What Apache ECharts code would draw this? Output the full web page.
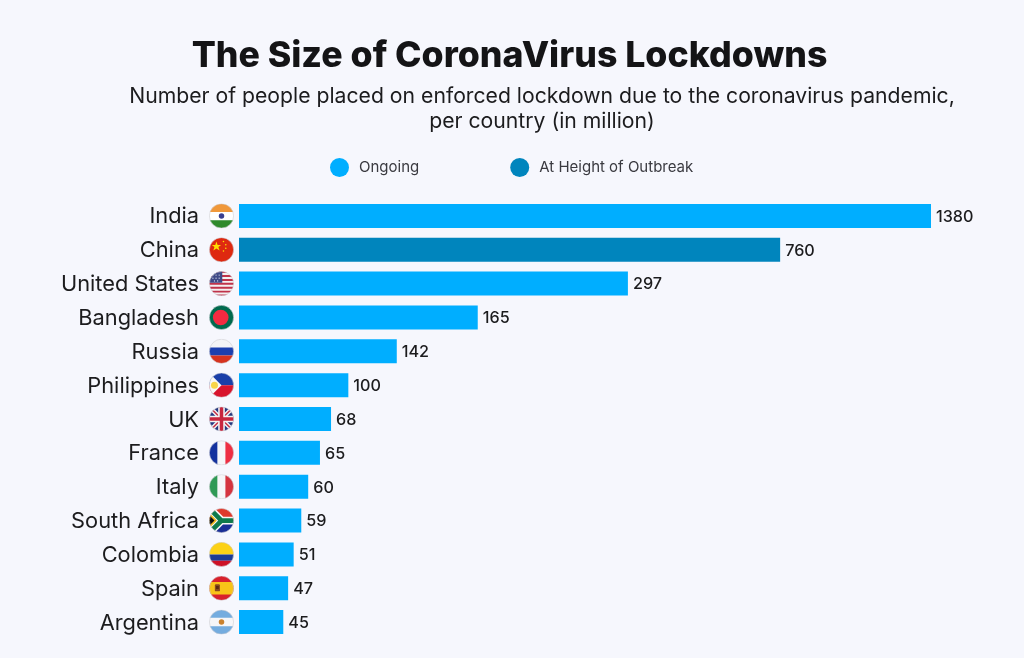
<!DOCTYPE html>
<html>
<head>
<meta charset="utf-8">
<title>The Size of CoronaVirus Lockdowns</title>
<script src="https://cdn.jsdelivr.net/npm/echarts@6/dist/echarts.min.js"></script>
<style>
html,body{margin:0;padding:0;background:#f6f7fd}
#main{width:1024px;height:658px}
</style>
</head>
<body>
<div id="main"></div>
<script>
var countries = ['India','China','United States','Bangladesh','Russia','Philippines','UK','France','Italy','South Africa','Colombia','Spain','Argentina'];
// numbers printed next to the bars
var printedValues = [1380,760,297,165,142,100,68,65,60,59,51,47,45];
// the original bars are not proportional to the printed numbers,
// so this is the bar length, as % of the longest bar
var barShare = [100,78.2,56.2,34.5,22.8,15.8,13.3,11.7,10,9,7.9,7.1,6.4];
var barStatus = ['Ongoing','At Height of Outbreak','Ongoing','Ongoing','Ongoing','Ongoing','Ongoing','Ongoing','Ongoing','Ongoing','Ongoing','Ongoing','Ongoing'];

var font = 'Inter';
var ink = '#1c1c1e';

var flagArt = {
  'India': '<rect width="64" height="22" fill="#f0983a"/><rect y="22" width="64" height="21" fill="#fff"/><rect y="43" width="64" height="21" fill="#2f8a2c"/><circle cx="32" cy="32" r="7" fill="#3a3f8f"/>',
  'China': '<rect width="64" height="64" fill="#de2910"/><polygon points="19,11 22,20 31,20 24,25 27,34 19,29 11,34 14,25 7,20 16,20" fill="#ffde00"/><circle cx="37" cy="11" r="2" fill="#ffde00"/><circle cx="43" cy="19" r="2" fill="#ffde00"/><circle cx="43" cy="28" r="2" fill="#ffde00"/><circle cx="37" cy="35" r="2" fill="#ffde00"/>',
  'United States': '<rect width="64" height="64" fill="#f4f0f0"/><g fill="#c0334a"><rect y="0" width="64" height="5"/><rect y="10" width="64" height="5"/><rect y="20" width="64" height="5"/><rect y="30" width="64" height="5"/><rect y="40" width="64" height="5"/><rect y="50" width="64" height="5"/><rect y="60" width="64" height="4"/></g><rect width="34" height="30" fill="#3f4a86"/><g fill="#dfe2f2"><circle cx="10" cy="10" r="1.6"/><circle cx="18" cy="10" r="1.6"/><circle cx="26" cy="10" r="1.6"/><circle cx="10" cy="18" r="1.6"/><circle cx="18" cy="18" r="1.6"/><circle cx="26" cy="18" r="1.6"/><circle cx="14" cy="25" r="1.6"/><circle cx="22" cy="25" r="1.6"/></g>',
  'Bangladesh': '<rect width="64" height="64" fill="#006a4e"/><circle cx="30" cy="32" r="20" fill="#f42a41"/>',
  'Russia': '<rect width="64" height="22" fill="#f4f4f6"/><rect y="22" width="64" height="21" fill="#1c3fae"/><rect y="43" width="64" height="21" fill="#d6331f"/>',
  'Philippines': '<rect width="64" height="32" fill="#1a3fa8"/><rect y="32" width="64" height="32" fill="#d8142c"/><polygon points="0,0 32,32 0,64" fill="#f8f8f8"/><circle cx="14" cy="32" r="9" fill="#f8d54a"/>',
  'UK': '<rect width="64" height="64" fill="#25387f"/><path d="M0,0L64,64M64,0L0,64" stroke="#f4f4f4" stroke-width="11"/><path d="M0,0L64,64M64,0L0,64" stroke="#c8334a" stroke-width="4"/><path d="M32,0V64M0,32H64" stroke="#f4f4f4" stroke-width="17"/><path d="M32,0V64M0,32H64" stroke="#c8263e" stroke-width="9"/>',
  'France': '<rect width="22" height="64" fill="#14329e"/><rect x="22" width="20" height="64" fill="#f6f6f8"/><rect x="42" width="22" height="64" fill="#ee2f42"/>',
  'Italy': '<rect width="22" height="64" fill="#2f9a55"/><rect x="22" width="20" height="64" fill="#f6f6f8"/><rect x="42" width="22" height="64" fill="#d5343f"/>',
  'South Africa': '<rect width="64" height="32" fill="#e0392c"/><rect y="32" width="64" height="32" fill="#1a2f96"/><path d="M0,0L32,32H64M0,64L32,32" fill="none" stroke="#f6f6f6" stroke-width="20"/><path d="M0,0L32,32H64M0,64L32,32" fill="none" stroke="#0f7a4c" stroke-width="12"/><polygon points="0,12 20,32 0,52" fill="#f2b81c"/><polygon points="0,18 14,32 0,46" fill="#111"/>',
  'Colombia': '<rect width="64" height="32" fill="#fcd116"/><rect y="32" width="64" height="16" fill="#1c3a94"/><rect y="48" width="64" height="16" fill="#ce1126"/>',
  'Spain': '<rect width="64" height="64" fill="#d8202c"/><rect y="16" width="64" height="32" fill="#f8c318"/><rect x="15" y="22" width="13" height="18" rx="3" fill="#8a4a1e"/><rect x="18" y="26" width="7" height="8" fill="#5c2b10"/>',
  'Argentina': '<rect width="64" height="64" fill="#f6f6f8"/><rect width="64" height="21" fill="#74acdf"/><rect y="43" width="64" height="21" fill="#74acdf"/><circle cx="32" cy="32" r="7" fill="#c9812e"/>'
};

function flagImage(name) {
  var svg = '<svg xmlns="http://www.w3.org/2000/svg" width="100" height="100" viewBox="0 0 64 64">' +
    '<defs><clipPath id="c"><circle cx="32" cy="32" r="31"/></clipPath></defs>' +
    '<g clip-path="url(#c)">' + flagArt[name] + '</g>' +
    '<circle cx="32" cy="32" r="31" fill="none" stroke="#cfcfd4" stroke-width="1.5"/></svg>';
  var img = new Image();
  img.src = 'data:image/svg+xml;charset=utf-8,' + encodeURIComponent(svg);
  return img;
}

var labelRich = {
  name: {fontFamily: font, fontSize: 21.8, color: ink, padding: [2, 10, 0, 0]}
};
countries.forEach(function (c, i) {
  labelRich['f' + i] = {width: 25, height: 25, backgroundColor: {image: flagImage(c)}};
});

function seriesFor(name, color) {
  return {
    name: name,
    type: 'bar',
    stack: 'one',
    barWidth: 24,
    itemStyle: {color: color},
    data: barShare.map(function (v, i) { return barStatus[i] === name ? v : null; }),
    label: {
      show: true,
      position: 'right',
      distance: 5,
      offset: [0, 1],
      fontFamily: font,
      fontSize: 16.2,
      fontWeight: 500,
      color: ink,
      formatter: function (p) { return printedValues[p.dataIndex]; }
    }
  };
}

var myChart = echarts.init(document.getElementById('main'));
myChart.setOption({
  backgroundColor: '#f6f7fd',
  animation: false,
  title: [{
    text: 'The Size of CoronaVirus Lockdowns',
    left: 504.5, top: 33, textAlign: 'center',
    textStyle: {fontFamily: font, fontSize: 35.7, fontWeight: 800, color: '#141416'}
  }, {
    text: 'Number of people placed on enforced lockdown due to the coronavirus pandemic,\nper country (in million)',
    left: 537, top: 79, textAlign: 'center',
    textStyle: {fontFamily: font, fontSize: 21.2, fontWeight: 400, color: ink, lineHeight: 25, align: 'center'}
  }],
  legend: {
    left: 330, top: 158, padding: 0,
    itemWidth: 19, itemHeight: 19, itemGap: 91,
    icon: 'circle',
    textStyle: {fontFamily: font, fontSize: 15, color: '#3a3a40', padding: [0, 0, 0, 5]},
    data: ['Ongoing', 'At Height of Outbreak']
  },
  grid: {left: 239, top: 199, width: 692, height: 440},
  xAxis: {type: 'value', min: 0, max: 100, show: false},
  yAxis: {
    type: 'category',
    inverse: true,
    data: countries,
    axisLine: {show: false},
    axisTick: {show: false},
    axisLabel: {
      margin: 5,
      formatter: function (v, i) { return '{name|' + v + '}{f' + i + '|}'; },
      rich: labelRich
    }
  },
  series: [seriesFor('Ongoing', '#00aeff'), seriesFor('At Height of Outbreak', '#0085bd')]
});
setTimeout(function () { myChart.resize(); }, 100);
</script>
</body>
</html>
